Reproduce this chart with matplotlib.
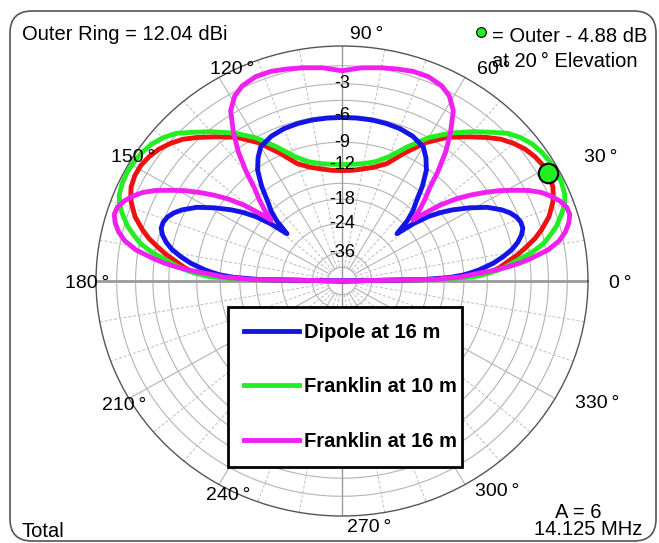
import numpy as np
import matplotlib
matplotlib.use("Agg")
import matplotlib.pyplot as plt
from matplotlib.patches import FancyBboxPatch, Rectangle
from matplotlib.transforms import IdentityTransform

plt.rcParams["font.family"] = ["Liberation Sans", "DejaVu Sans"]

# elevation pattern, dB relative to the outer ring (pattern is symmetric about 90 deg)
red_elev = [0, 1, 2, 3, 4, 5, 7, 9, 11, 13, 15, 18, 20, 22, 25, 28, 31, 34, 37, 40,
            43, 46, 50, 55, 60, 65, 70, 75, 80, 85, 90]
red_db = [-100, -17, -11.5, -9.5, -8.3, -7.6, -6.6, -5.5, -4.6, -3.7, -3.0, -2.1, -1.7,
          -1.3, -0.95, -0.8, -0.8, -0.95, -1.2, -1.6, -2.1, -2.8, -3.8, -5.0, -6.6,
          -8.7, -10.8, -11.8, -12.4, -12.8, -12.9]

green_elev = red_elev
green_db = [-100, -15.5, -10.5, -9.0, -7.9, -7.0, -5.7, -4.2, -3.1, -2.4, -1.75, -1.05,
            -0.65, -0.4, -0.25, -0.2, -0.25, -0.35, -0.55, -0.9, -1.4, -2.2, -3.2,
            -4.5, -6.0, -7.9, -9.8, -11.0, -11.6, -11.9, -12.0]

blue_elev = [0, 1, 2, 3, 4, 5, 7, 9, 11, 13, 15, 17, 19, 21, 23, 25, 28, 31, 34, 36,
             38, 40, 42, 44, 46, 48, 51, 54, 57, 60, 65, 70, 75, 80, 85, 90]
blue_db = [-100, -19, -14, -12, -10.8, -9.8, -8.2, -7.0, -6.0, -5.3, -4.8, -4.5, -4.5,
           -4.7, -5.1, -5.7, -6.9, -8.6, -10.5, -12.0, -13.8, -16.5, -20.5, -17.0,
           -15.0, -13.7, -11.2, -9.2, -8.0, -7.1, -6.6, -6.35, -6.25, -6.2, -6.2, -6.2]

mag_elev = [0, 1, 2, 3, 4, 5, 6, 7, 9, 11, 13, 15, 17, 19, 21, 23, 25, 27, 29, 31, 33,
            35, 37, 39, 41, 42, 44, 46, 48, 50, 52.5, 55, 58, 61, 64, 68, 72, 76, 80,
            85, 90]
mag_db = [-100, -17, -12.5, -10.8, -8.6, -6.8, -5.5, -4.5, -2.8, -1.8, -1.2, -0.8,
          -0.55, -0.6, -0.9, -1.35, -1.95, -2.8, -3.9, -5.0, -6.3, -7.7, -9.3, -11.4,
          -14.5, -16.2, -14.0, -12.3, -10.8, -8.6, -6.3, -4.5, -2.7, -1.8, -1.35,
          -1.1, -1.1, -1.25, -1.4, -1.6, -1.9]

dot_elev = 28.7
dot_db = -0.8

ring_levels = [-1.5, -3, -4.5, -6, -9, -12, -15, -18, -24, -36, -48]
ring_labels = [-3, -6, -9, -12, -18, -24, -36]

angle_labels = ["0", "30", "60", "90", "120", "150", "180", "210", "240", "270", "300", "330"]
# label centres in pixels (x from left, y from top)
angle_pos = [(620, 283), (601, 158), (494, 70), (367, 35), (232, 70), (133, 157),
             (87, 283), (124, 406), (228, 495), (369, 527), (497, 492), (597, 404)]

legend_labels = ["Dipole at 16 m", "Franklin at 10 m", "Franklin at 16 m"]


def full(elev, db):
    elev = np.array(elev, dtype=float)
    db = np.array(db, dtype=float)
    th = np.concatenate([elev, 180 - elev[::-1][1:]])
    val = np.concatenate([db, db[::-1][1:]])
    return np.radians(th), val


# ARRL style log scale: 2 dB per factor 0.89
def arrl(db):
    return 0.89 ** (-np.asarray(db, dtype=float) / 2.0)


def arrl_inv(r):
    r = np.clip(np.asarray(r, dtype=float), 1e-12, None)
    return -2.0 * np.log(r) / np.log(0.89)


W, H = 659, 543
fig = plt.figure(figsize=(W / 100, H / 100), dpi=100)

ax = fig.add_axes([96 / W, 27 / H, 492 / W, 470 / H], projection="polar")
ax.set_aspect("auto")
ax.set_rscale("function", functions=(arrl, arrl_inv))
ax.set_rlim(-100, 0)
ax.set_xticks([])
ax.set_yticks([])
ax.grid(False)
ax.spines["polar"].set_color("#555555")
ax.spines["polar"].set_linewidth(1.0)

th = np.linspace(0, 2 * np.pi, 721)
for lvl in ring_levels:
    ax.plot(th, np.full_like(th, lvl), color="#b4b4b4", lw=0.8, zorder=1)

for a in range(0, 360, 10):
    if a % 90 == 0:
        continue
    t = np.radians(a)
    if a % 30 == 0:
        ax.plot([t, t], [-48, 0], color="#b4b4b4", lw=0.8, zorder=1)
    else:
        ax.plot([t, t], [-48, 0], color="#bdbdbd", lw=0.7, ls=(0, (3, 2)), zorder=1)

for a in (0, 180):
    ax.plot([np.radians(a)] * 2, [-100, 0], color="#9a9a9a", lw=2, zorder=1.5)
for a in (90, 270):
    ax.plot([np.radians(a)] * 2, [-100, 0], color="#9a9a9a", lw=1, zorder=1.5)

t, v = full(red_elev, red_db)
ax.plot(t, v, color="#ee1111", lw=3.5, zorder=3)
t, v = full(green_elev, green_db)
l_green, = ax.plot(t, v, color="#22ee22", lw=3.5, zorder=3.2)
t, v = full(blue_elev, blue_db)
l_blue, = ax.plot(t, v, color="#1414e6", lw=3.5, zorder=3.4)
t, v = full(mag_elev, mag_db)
l_mag, = ax.plot(t, v, color="#f020f0", lw=3.5, zorder=3.6)

ax.plot(np.radians(dot_elev), dot_db, "o", ms=14, mfc="#22ee22", mec="black",
        mew=1.5, zorder=5)

for lvl in ring_labels:
    ax.text(np.pi / 2, lvl, str(lvl), ha="center", va="center", fontsize=13, zorder=6)

for lab, (x, y) in zip(angle_labels, angle_pos):
    fig.text(x / W, 1 - y / H, lab + "\u2009°", ha="center", va="center", fontsize=14)

# outer rounded frame
frame = FancyBboxPatch((10, 2), 646, 530, boxstyle="round,pad=0,rounding_size=22",
                       transform=IdentityTransform(), fill=False, ec="#555555", lw=1.2)
fig.add_artist(frame)

# legend box
box = Rectangle((228, 76), 234, 160, transform=IdentityTransform(), fc="white",
                ec="black", lw=2, zorder=4)
fig.add_artist(box)
fig.legend([l_blue, l_green, l_mag], legend_labels, loc="center left",
           bbox_to_anchor=(234 / W, 1 - 387 / H), frameon=False, borderpad=0,
           handlelength=2.75, handletextpad=0.25, labelspacing=1.75,
           prop={"weight": "bold", "size": 14.5}).set_zorder(6)

fig.text(22 / W, 1 - 40 / H, "Outer Ring = 12.04 dBi", ha="left", va="baseline",
         fontsize=14.5)
fig.add_artist(plt.Line2D([481 / W], [1 - 32 / H], marker="o", ms=7,
                          mfc="#22ee22", mec="black", mew=0.8, ls="none"))
fig.text(492 / W, 1 - 42 / H, "= Outer - 4.88 dB", ha="left", va="baseline",
         fontsize=14.5)
fig.text(492 / W, 1 - 67 / H, "at 20\u2009° Elevation", ha="left", va="baseline",
         fontsize=14.5)
fig.text(22 / W, 1 - 537 / H, "Total", ha="left", va="baseline", fontsize=14.5)
fig.text(578 / W, 1 - 518 / H, "A = 6", ha="center", va="baseline", fontsize=14.5)
fig.text(642 / W, 1 - 535 / H, "14.125 MHz", ha="right", va="baseline", fontsize=14.5)

fig.savefig("out.png", dpi=100, facecolor="white")
